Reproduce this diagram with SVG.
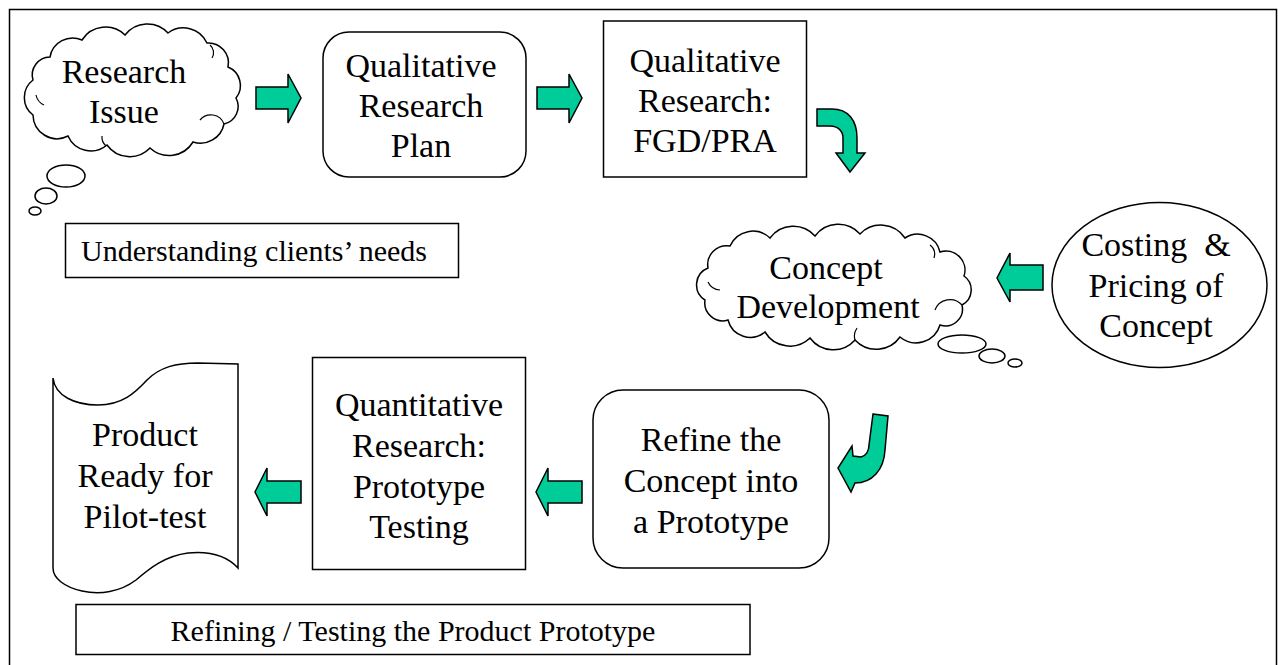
<svg xmlns="http://www.w3.org/2000/svg" width="1278" height="665" viewBox="0 0 1278 665">
<style>
.sh{fill:#fff;stroke:#000;stroke-width:1.5}
.in{fill:none;stroke:#000;stroke-width:1.2}
.ar{fill:#00CC99;stroke:#000;stroke-width:1.5;stroke-linejoin:miter}
.t{font-family:"Liberation Serif","Times New Roman",serif;font-size:34px;fill:#000;text-anchor:middle}
.s{font-family:"Liberation Serif","Times New Roman",serif;font-size:30px;fill:#000;text-anchor:middle}
</style>
<rect x="0" y="0" width="1278" height="665" fill="#fff"/>
<rect id="frame" x="9.5" y="9.5" width="1267" height="680" fill="none" stroke="#000" stroke-width="1.5"/>

<g id="research-issue">
<path class="sh" d="M33,115 A22,22 0 0 1 33,80 A18,18 0 0 1 50,57 A23,23 0 0 1 82,40 A28,28 0 0 1 125,35 A28,28 0 0 1 168,33 A26,26 0 0 1 207,43 A20,20 0 0 1 228,67 A20,20 0 0 1 236,98 A18,18 0 0 1 224,124 A24,24 0 0 1 193,142 A28,28 0 0 1 150,148 A28,28 0 0 1 107,145 A25,25 0 0 1 68,136 A24,24 0 0 1 33,115 Z"/>
<path class="in" d="M36,95 A14,14 0 0 0 44,105 M210,45 A10,10 0 0 1 212,58 M200,120 A14,14 0 0 1 224,124 M106,146 A12,12 0 0 1 102,136"/>
<ellipse class="sh" cx="66" cy="176" rx="19" ry="11"/>
<ellipse class="sh" cx="46" cy="196" rx="11" ry="8"/>
<ellipse class="sh" cx="35" cy="211" rx="6" ry="4"/>
<text class="t" x="124" y="83">Research</text>
<text class="t" x="124" y="123">Issue</text>
</g>

<g id="qual-plan">
<rect class="sh" x="323" y="32" width="203" height="145" rx="26"/>
<text class="t" x="421" y="77">Qualitative</text>
<text class="t" x="421" y="117">Research</text>
<text class="t" x="421" y="157">Plan</text>
</g>

<g id="qual-fgd">
<rect class="sh" x="603.5" y="21" width="203" height="156"/>
<text class="t" x="705" y="72">Qualitative</text>
<text class="t" x="705" y="112">Research:</text>
<text class="t" x="705" y="152">FGD/PRA</text>
</g>

<g id="understanding">
<rect class="sh" x="65.5" y="223.5" width="393" height="54"/>
<text class="s" x="254" y="261">Understanding clients’ needs</text>
</g>

<g id="concept-dev">
<path class="sh" d="M705,300 A18,18 0 0 1 708,268 A19,19 0 0 1 730,246 A25,25 0 0 1 770,238 A29,29 0 0 1 815,236 A29,29 0 0 1 860,234 A29,29 0 0 1 905,238 A23,23 0 0 1 940,252 A19,19 0 0 1 964,276 A17,17 0 0 1 962,305 A17,17 0 0 1 940,325 A25,25 0 0 1 900,337 A29,29 0 0 1 855,340 A29,29 0 0 1 810,338 A29,29 0 0 1 765,332 A23,23 0 0 1 728,320 A18,18 0 0 1 705,300 Z"/>
<path class="in" d="M708,282 A14,14 0 0 0 720,290 M930,245 A12,12 0 0 1 934,258 M935,310 A16,16 0 0 1 962,305 M855,340 A14,14 0 0 1 857,328"/>
<ellipse class="sh" cx="962" cy="344" rx="24" ry="9"/>
<ellipse class="sh" cx="992" cy="356" rx="13" ry="7"/>
<ellipse class="sh" cx="1015" cy="363" rx="7" ry="4"/>
<text class="t" x="826" y="279">Concept</text>
<text class="t" x="828" y="318">Development</text>
</g>

<g id="costing">
<ellipse class="sh" cx="1159.5" cy="285" rx="107.5" ry="82.5"/>
<text class="t" x="1156" y="256" xml:space="preserve">Costing  &amp;</text>
<text class="t" x="1156" y="297">Pricing of</text>
<text class="t" x="1156" y="337">Concept</text>
</g>

<g id="refine">
<rect class="sh" x="593" y="390" width="236" height="178" rx="30"/>
<text class="t" x="711" y="451">Refine the</text>
<text class="t" x="711" y="492">Concept into</text>
<text class="t" x="711" y="533">a Prototype</text>
</g>

<g id="quant">
<rect class="sh" x="312.5" y="357.5" width="213" height="212"/>
<text class="t" x="419" y="416">Quantitative</text>
<text class="t" x="419" y="457">Research:</text>
<text class="t" x="419" y="498">Prototype</text>
<text class="t" x="419" y="538">Testing</text>
</g>

<g id="product">
<path class="sh" d="M53,378 C55,396 75,405 98,405 C122,405 135,393 147,380 C160,367 176,363 198,363 L238,364 L238,568 C226,555 208,551 188,553 C165,556 150,568 136,580 C120,592 100,595 82,591 C64,587 53,578 53,568 Z"/>
<text class="t" x="145" y="446">Product</text>
<text class="t" x="145" y="487">Ready for</text>
<text class="t" x="145" y="528">Pilot-test</text>
</g>

<g id="refining">
<rect class="sh" x="76" y="604.5" width="674" height="50"/>
<text class="s" x="413" y="641">Refining / Testing the Product Prototype</text>
</g>

<g id="connectors">
<path class="ar" d="M256,87 L288,87 L288,74 L301,98 L288,123 L288,109 L256,109 Z"/>
<path class="ar" d="M537,87 L569,87 L569,74 L582,98 L569,123 L569,109 L537,109 Z"/>
<path class="ar" d="M817,109 L832,109 C848,109 857,120 857,138 L857,153 L865,153 L850,172 L836,153 L843,153 L843,138 C843,131 838,126 830,126 L817,126 Z"/>
<path class="ar" d="M1043,265 L1010,265 L1010,253 L997,278 L1010,302 L1010,290 L1043,290 Z"/>
<path class="ar" d="M873,414 L888,416 L885,450 C884,470 872,483 855,483 L851,492 L838,468 L852,446 L853,456 L861,457 C866,456 869,451 869,445 Z"/>
<path class="ar" d="M582,481 L548,481 L548,468 L536,492 L548,516 L548,503 L582,503 Z"/>
<path class="ar" d="M301,481 L267,481 L267,468 L255,492 L267,516 L267,503 L301,503 Z"/>
</g>
</svg>
